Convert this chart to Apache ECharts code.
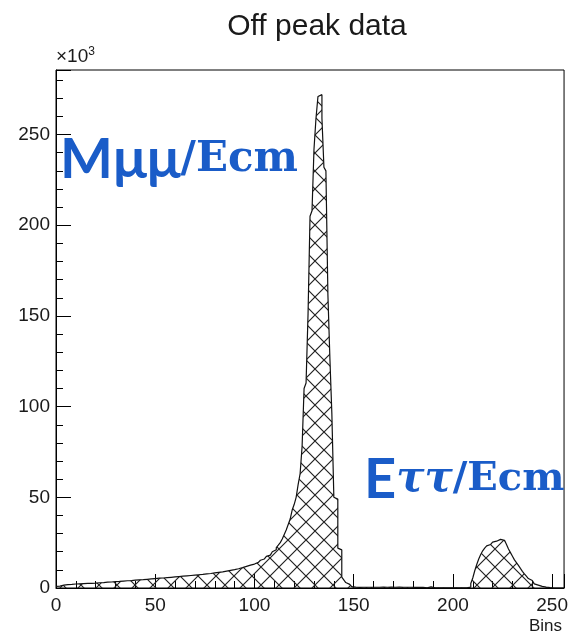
<!DOCTYPE html>
<html><head><meta charset="utf-8">
<script src="https://cdn.jsdelivr.net/npm/echarts@6/dist/echarts.min.js"></script>
<style>html,body{margin:0;padding:0;background:#fff}#c{width:571px;height:637px}</style>
</head><body><div id="c"></div>
<script>
// Histogram of entries per bin (in units of 10^3), unit-width bins starting at 0
const binWidth = 1;
const counts = [
  0.9, 1.0, 1.3, 1.6, 1.8, 1.9, 2.0, 2.0, 2.1, 2.2, 2.2, 2.3, 2.3, 2.4, 2.5, 2.5,
  2.6, 2.6, 2.7, 2.7, 2.8, 2.9, 2.9, 3.0, 3.1, 3.2, 3.2, 3.3, 3.4, 3.5, 3.6, 3.6,
  3.7, 3.8, 3.9, 4.0, 4.0, 4.1, 4.2, 4.3, 4.4, 4.5, 4.6, 4.6, 4.7, 4.8, 4.9, 5.0,
  5.1, 5.2, 5.3, 5.4, 5.5, 5.5, 5.6, 5.7, 5.8, 5.9, 6.0, 6.1, 6.2, 6.3, 6.4, 6.5,
  6.6, 6.7, 6.8, 6.9, 7.0, 7.1, 7.2, 7.3, 7.4, 7.5, 7.7, 7.8, 7.9, 8.0, 8.2, 8.3,
  8.4, 8.6, 8.7, 8.9, 9.1, 9.3, 9.5, 9.7, 9.9, 10.1, 10.3, 10.6, 10.9, 11.2, 11.5, 11.9,
  12.2, 12.6, 12.9, 13.2, 13.6, 14.1, 14.7, 15.3, 16.0, 16.7, 17.4, 18.1, 19.0, 20.0, 21.1, 22.3,
  23.6, 25.0, 27.0, 29.5, 32.0, 35.0, 38.0, 43.0, 46.0, 50.0, 57.0, 63.0, 78.0, 110.0, 113.0, 151.0,
  205, 208, 242, 259, 271, 272, 259, 232, 230, 162, 127, 96, 50, 49, 22, 21,
  6.0, 4.5, 3.0, 2.0, 1.2, 0.8, 0.5, 0.3, 0.3, 0.4, 0.4, 0.4, 0.4, 0.4, 0.4, 0.4,
  0.4, 0.5, 0.4, 0.4, 0.5, 0.4, 0.4, 0.4, 0.5, 0.4, 0.4, 0.4, 0.5, 0.4, 0.4, 0.4,
  0.4, 0.4, 0.4, 0.4, 0.3, 0.4, 0.4, 0.3, 0.3, 0.1, 0.1, 0.1, 0.6, 0.5, 0.1, 0.1,
  0.1, 0.1, 0.1, 0.1, 0.1, 0.1, 0.1, 0.1, 0.1, 0.1, 0.1, 0.1, 0.1, 0.1, 0.1, 0.2,
  0.5, 2.5, 5.5, 9.5, 13.0, 16.0, 18.5, 20.5, 22.0, 23.2, 24.0, 24.8, 25.3, 25.8, 26.3, 26.8,
  26.8, 26.3, 25.5, 24.0, 21.5, 19.5, 17.5, 15.5, 14.0, 12.5, 10.8, 9.2, 7.8, 6.5, 5.2, 4.1,
  3.1, 2.3, 1.6, 1.2, 0.9, 0.7, 0.5, 0.4, 0.2, 0, 0, 0, 0, 0, 0, 0
];
const xRange = [0, 256];
const yRange = [0, 285.6];
const majorStep = 50;
const minorStep = 10;
const chartTitle = 'Off peak data';
const xTitle = 'Bins';
const yScaleNote = '×10{s|3}';

// Cross-hatched fill tile
function crossHatch(p, color) {
  const c = document.createElement('canvas');
  c.width = p; c.height = p;
  const g = c.getContext('2d');
  g.strokeStyle = color; g.lineWidth = 1.2;
  g.beginPath();
  g.moveTo(-1, -1); g.lineTo(p + 1, p + 1);
  g.moveTo(p + 1, -1); g.lineTo(-1, p + 1);
  g.stroke();
  return c;
}

// Step outline: every bin contributes its left and right edge at its own height
const histData = [];
counts.forEach((v, i) => {
  histData.push([i * binWidth, v]);
  histData.push([(i + 1) * binWidth, v]);
});

const FONT = 'Liberation Sans';
const ink = '#1a1a1a';
const blue = '#1a5cc8';

const chart = echarts.init(document.getElementById('c'), null, { renderer: 'canvas' });
chart.setOption({
  animation: false,
  backgroundColor: '#fff',
  title: {
    text: chartTitle, left: 312, top: 7, textAlign: 'center',
    textStyle: { fontFamily: FONT, fontSize: 30, fontWeight: 'normal', color: ink }
  },
  grid: { left: 56, top: 70, right: 6, bottom: 49, show: true, borderColor: '#000', borderWidth: 1, backgroundColor: 'transparent' },
  xAxis: [
    {
      type: 'value', min: xRange[0], max: xRange[1], interval: majorStep, position: 'bottom',
      axisLine: { show: true, onZero: false, lineStyle: { color: '#000', width: 1 } },
      axisTick: { show: true, inside: true, length: 14, lineStyle: { color: '#000', width: 1 } },
      axisLabel: { fontFamily: FONT, fontSize: 19, color: ink, margin: 8,
        formatter: v => (v % majorStep === 0 ? String(v) : '') },
      splitLine: { show: false },
      name: xTitle, nameLocation: 'end', nameGap: 0,
      nameTextStyle: { fontFamily: FONT, fontSize: 17, color: ink, align: 'right', verticalAlign: 'top', padding: [30, 2, 0, 0] }
    },
    {
      type: 'value', min: xRange[0], max: xRange[1], interval: minorStep, position: 'bottom',
      axisLine: { show: false, onZero: false },
      axisTick: { show: true, inside: true, length: 7, lineStyle: { color: '#000', width: 1 } },
      axisLabel: { show: false }, splitLine: { show: false }
    }
  ],
  yAxis: [
    {
      type: 'value', min: yRange[0], max: yRange[1], interval: majorStep, position: 'left',
      axisLine: { show: true, onZero: false, lineStyle: { color: '#000', width: 1 } },
      axisTick: { show: true, inside: true, length: 15, lineStyle: { color: '#000', width: 1 } },
      axisLabel: { fontFamily: FONT, fontSize: 19, color: ink, margin: 6,
        formatter: v => (v % majorStep === 0 ? String(v) : '') },
      splitLine: { show: false },
      name: yScaleNote, nameLocation: 'end', nameGap: 3,
      nameTextStyle: { fontFamily: FONT, fontSize: 19, color: ink, align: 'left', verticalAlign: 'bottom',
        rich: { s: { fontFamily: FONT, fontSize: 12, color: ink, verticalAlign: 'top', padding: [0, 0, 9, 0] } } }
    },
    {
      type: 'value', min: yRange[0], max: yRange[1], interval: minorStep, position: 'left',
      axisLine: { show: false, onZero: false },
      axisTick: { show: true, inside: true, length: 7, lineStyle: { color: '#000', width: 1 } },
      axisLabel: { show: false }, splitLine: { show: false }
    }
  ],
  series: [{
    type: 'line', data: histData, symbol: 'none', xAxisIndex: 0, yAxisIndex: 0,
    lineStyle: { color: '#111', width: 1.2 },
    areaStyle: { color: { image: crossHatch(18, '#222'), repeat: 'repeat' }, opacity: 1 },
    z: 3
  }],
  graphic: [
    {
      type: 'text', left: 60, top: 132, z: 10,
      style: {
        text: '{a|Mμμ}{b|/Ecm}', fill: blue,
        rich: {
          a: { fontFamily: 'Lato', fontWeight: 'bold', fontSize: 56, fill: blue },
          b: { fontFamily: 'DejaVu Serif', fontWeight: 'bold', fontSize: 42, fill: blue }
        }
      }
    },
    {
      type: 'text', left: 364, top: 452, z: 10,
      style: {
        text: '{a|E}{t|ττ}{b|/Ecm}', fill: blue,
        rich: {
          a: { fontFamily: 'Lato', fontWeight: 'bold', fontSize: 56, fill: blue },
          t: { fontFamily: 'DejaVu Serif', fontStyle: 'italic', fontWeight: 'bold', fontSize: 42, fill: blue },
          b: { fontFamily: 'DejaVu Serif', fontWeight: 'bold', fontSize: 40, fill: blue }
        }
      }
    }
  ]
});
</script>
</body></html>
